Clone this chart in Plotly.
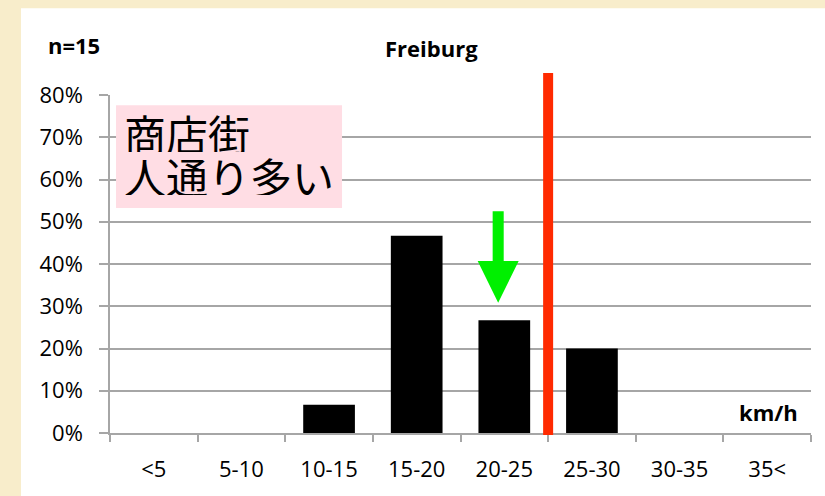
import plotly.graph_objects as go

# ── data ────────────────────────────────────────────────────────────────
speed_bins = ["<5", "5-10", "10-15", "15-20", "20-25", "25-30", "30-35", "35<"]
share_pct = [0, 0, 6.67, 46.7, 26.7, 20.0, 0, 0]   # n = 15 -> 1, 7, 4, 3
y_ticks = [0, 10, 20, 30, 40, 50, 60, 70, 80]
y_tick_text = [f"{v}%" for v in y_ticks]

limit_pos = 4.5          # red limit line between 20-25 and 25-30
arrow_x = 3.93           # green arrow over 20-25
arrow_top, arrow_neck, arrow_tip = 52.5, 40.7, 30.8

FONT = "Open Sans"
GRID = "#A6A6A6"

fig = go.Figure()

fig.add_trace(go.Bar(
    x=speed_bins, y=share_pct,
    marker=dict(color="#000000", line=dict(width=0)),
    width=0.59, showlegend=False, hoverinfo="skip",
))

# white card on beige paper
fig.add_shape(type="rect", xref="paper", yref="paper",
              x0=-0.127, x1=1.2, y0=-0.3, y1=1.257,
              fillcolor="white", line=dict(width=0), layer="below")

# red limit line
fig.add_shape(type="line", xref="x", yref="paper",
              x0=limit_pos, x1=limit_pos, y0=-0.006, y1=1.065,
              line=dict(color="#FF2A00", width=10), layer="above")

# green arrow
sw, hw = 0.063, 0.234
path = (f"M {arrow_x - sw},{arrow_top} L {arrow_x + sw},{arrow_top} "
        f"L {arrow_x + sw},{arrow_neck} L {arrow_x + hw},{arrow_neck} "
        f"L {arrow_x},{arrow_tip} L {arrow_x - hw},{arrow_neck} "
        f"L {arrow_x - sw},{arrow_neck} Z")
fig.add_shape(type="path", xref="x", yref="y", path=path,
              fillcolor="#00F000", line=dict(width=0), layer="above")

# pink label box
fig.add_shape(type="rect", xref="paper", yref="paper",
              x0=0.0086, x1=0.331, y0=0.666, y1=0.970,
              fillcolor="#FFDDE4", line=dict(width=0), layer="above")

jp = dict(family="Noto Sans CJK JP", size=42, color="#000000")
fig.add_annotation(text="商店街", xref="paper", yref="paper", x=0.017, y=0.890,
                   xanchor="left", yanchor="middle", showarrow=False, font=jp,
                   height=40)
fig.add_annotation(text="人通り多い", xref="paper", yref="paper", x=0.017, y=0.763,
                   xanchor="left", yanchor="middle", showarrow=False, font=jp,
                   height=40)

bold = dict(family=FONT, size=22, color="#000000", weight="bold")
fig.add_annotation(text="n=15", xref="paper", yref="paper", x=-0.051, y=1.148,
                   xanchor="center", yanchor="middle", showarrow=False, font=bold)
fig.add_annotation(text="Freiburg", xref="paper", yref="paper", x=0.458, y=1.139,
                   xanchor="center", yanchor="middle", showarrow=False, font=bold)
fig.add_annotation(text="km/h", xref="paper", yref="paper", x=0.940, y=0.062,
                   xanchor="center", yanchor="middle", showarrow=False, font=bold)

fig.update_layout(
    width=825, height=496,
    margin=dict(l=110, r=14, t=95, b=63),
    paper_bgcolor="#F8EDCB", plot_bgcolor="white",
    bargap=0.41,
    font=dict(family=FONT, size=22, color="#000000"),
)
fig.update_xaxes(
    type="category", tickson="boundaries",
    ticks="outside", ticklen=7, tickwidth=1.5, tickcolor=GRID,
    showline=True, linecolor=GRID, linewidth=1.5,
    showgrid=False, ticklabelstandoff=16,
    range=[-0.5, 7.5],
)
fig.update_yaxes(
    range=[0, 80], tickvals=y_ticks, ticktext=y_tick_text,
    ticks="outside", ticklen=9, tickwidth=1.5, tickcolor=GRID,
    showline=True, linecolor=GRID, linewidth=1.5,
    showgrid=True, gridcolor=GRID, gridwidth=1.5,
    zeroline=False, ticklabelstandoff=12,
)

fig.write_html("out.html", config={"displayModeBar": False},
               post_script="document.body.style.margin='0px';")
